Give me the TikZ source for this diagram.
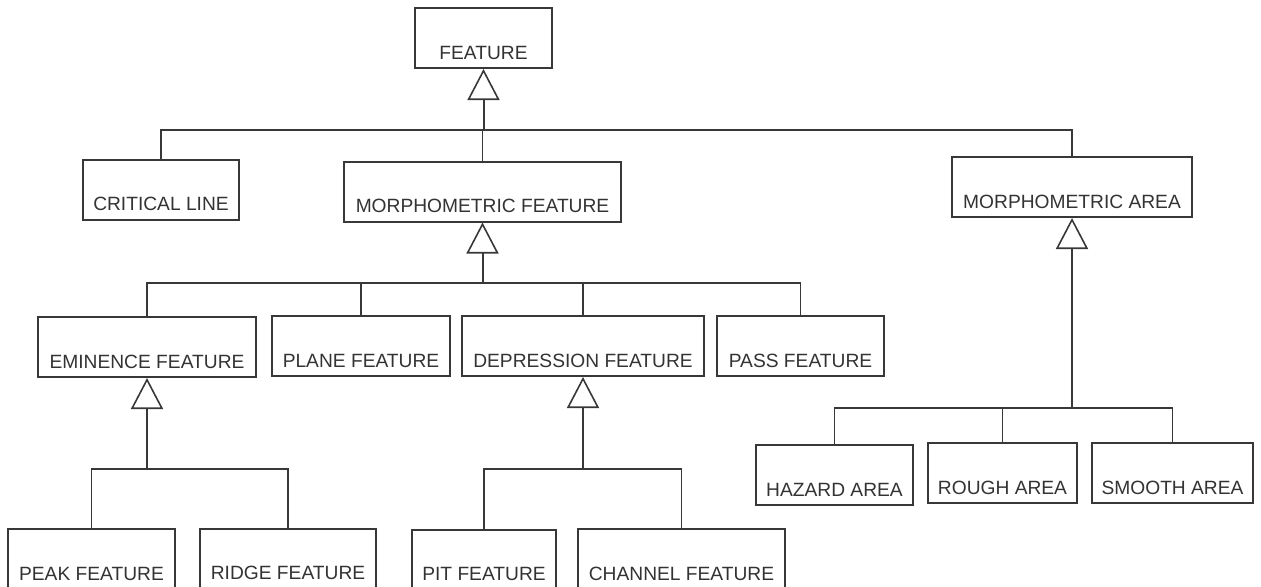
\documentclass[tikz,border=0pt]{standalone}
\usepackage{fontspec}
\setmainfont{Liberation Sans}
\usetikzlibrary{arrows.meta}
\definecolor{linegray}{HTML}{383838}
\definecolor{textgray}{HTML}{333333}

\begin{document}
\begin{tikzpicture}[x=0.5pt,y=-0.5pt,
  box/.style={draw=linegray, line width=1pt, rectangle, inner sep=0pt,
    minimum height=30pt, text height=21pt, text depth=0pt,
    text=textgray, font=\fontsize{9.6}{11}\selectfont},
  link/.style={draw=linegray, line width=0.7pt},
  isa/.style={draw=linegray, line width=1pt,
    -{Triangle[open, length=15.5pt, width=16pt, line width=0.8pt]}}]
\useasboundingbox (0,0) rectangle (1261,586);

% Top of the hierarchy
\node[box, minimum width=68.5pt] (feature) at (483.5,38) {FEATURE};

% Second row
\node[box, minimum width=78pt] (critline) at (161,189.5) {CRITICAL LINE};
\node[box, minimum width=138.5pt] (morphfeat) at (482.5,191.5) {MORPHOMETRIC FEATURE};
\node[box, minimum width=120pt] (morpharea) at (1072,187) {MORPHOMETRIC AREA};

% Third row (under morphometric feature)
\node[box, minimum width=109pt] (eminence) at (147,347) {EMINENCE FEATURE};
\node[box, minimum width=89pt] (plane) at (361,346) {PLANE FEATURE};
\node[box, minimum width=121pt] (depression) at (583,346) {DEPRESSION FEATURE};
\node[box, minimum width=83.5pt] (pass) at (800.5,346) {PASS FEATURE};

% Areas
\node[box, minimum width=78.5pt] (hazard) at (834.5,475) {HAZARD AREA};
\node[box, minimum width=74.5pt] (rough) at (1002.5,473) {ROUGH AREA};
\node[box, minimum width=80.5pt] (smooth) at (1172.5,473) {SMOOTH AREA};

% Bottom row (cut off by the page edge)
\node[box, minimum width=83.5pt] (peak) at (91.5,559) {PEAK FEATURE};
\node[box, minimum width=88pt] (ridge) at (288,558.5) {RIDGE FEATURE};
\node[box, minimum width=72pt] (pit) at (484,559.5) {PIT FEATURE};
\node[box, minimum width=103.5pt] (channel) at (681.5,559) {CHANNEL FEATURE};

% Junction points on the bars
\coordinate (jfeat) at (483.5,130);
\coordinate (jmorph) at (482.5,283);
\coordinate (jarea) at (1072,408);
\coordinate (jemin) at (147,469);
\coordinate (jdepr) at (583,469);

% Generalisation arrows
\draw[isa] (jfeat) -- (feature.south);
\draw[isa] (jmorph) -- (morphfeat.south);
\draw[isa] (jarea) -- (morpharea.south);
\draw[isa] (jemin) -- (eminence.south);
\draw[isa] (jdepr) -- (depression.south);

% Bars down to the children
\draw[link] (critline.north) |- (morpharea.north |- jfeat) -- (morpharea.north);
\draw[link] (morphfeat.north) -- (morphfeat.north |- jfeat);

\draw[link] (eminence.north) |- (pass.north |- jmorph) -- (pass.north);
\draw[link] (plane.north) -- (plane.north |- jmorph);
\draw[link] (depression.north) -- (depression.north |- jmorph);

\draw[link] (hazard.north) |- (smooth.north |- jarea) -- (smooth.north);
\draw[link] (rough.north) -- (rough.north |- jarea);

\draw[link] (peak.north) |- (ridge.north |- jemin) -- (ridge.north);
\draw[link] (pit.north) |- (channel.north |- jdepr) -- (channel.north);
\end{tikzpicture}
\end{document}
